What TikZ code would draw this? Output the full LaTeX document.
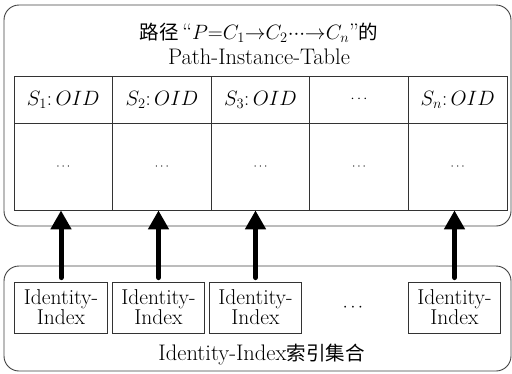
\documentclass[tikz,border=0pt]{standalone}
\usepackage{fontspec}
\newfontfamily\cjk{Noto Sans CJK SC}
\newcommand{\cjkt}[1]{{\cjk\fontsize{19.5}{19.5}\selectfont #1}}
\usetikzlibrary{arrows.meta}
\begin{document}
\begin{tikzpicture}[x=1pt,y=-1pt,
  grp/.style={draw=black!75, line width=0.9pt, rounded corners=15pt, inner sep=0pt},
  cell/.style={draw=black!80, line width=0.8pt, minimum width=98.6pt, inner sep=0pt},
  hcell/.style={cell, minimum height=47pt, font=\fontsize{21}{21}\selectfont},
  bcell/.style={cell, minimum height=87pt, font=\fontsize{13}{13}\selectfont},
  idx/.style={draw=black!80, line width=0.8pt, minimum width=92.5pt, minimum height=51pt, inner sep=0pt, align=center, font=\fontsize{21.5}{20}\selectfont},
  bigarrow/.style={line width=5pt, line cap=round, -{Triangle[length=19pt,width=20pt]}},
  lbl/.style={inner sep=0pt, align=center, font=\fontsize{22.5}{25}\selectfont}]
\useasboundingbox (0,0) rectangle (512,373);
% group boxes
\node[grp, minimum width=507pt, minimum height=221pt] (tbox) at (257.5,115.5) {};
\node[grp, minimum width=507pt, minimum height=105pt] (ibox) at (257.5,318.5) {};
% title
\node[lbl] (title) at (259,44) {\cjkt{路径}\,``$P{=}C_1{\to}C_2{\cdotp}{\cdotp}{\cdotp}{\to}C_n$''\cjkt{的}\\Path-Instance-Table};
% table header
\node[hcell] (h1) at (63.3,99.5) {$S_1{:}\,OID$};
\node[hcell] (h2) at (161.9,99.5) {$S_2{:}\,OID$};
\node[hcell] (h3) at (260.5,99.5) {$S_3{:}\,OID$};
\node[hcell] (h4) at (359.1,99.5) {\fontsize{15}{15}\selectfont$\cdots$};
\node[hcell] (h5) at (457.7,99.5) {$S_n{:}\,OID$};
% table body
\node[bcell] (b1) at (63.3,166.5) {$\cdots$};
\node[bcell] (b2) at (161.9,166.5) {$\cdots$};
\node[bcell] (b3) at (260.5,166.5) {$\cdots$};
\node[bcell] (b4) at (359.1,166.5) {$\cdots$};
\node[bcell] (b5) at (457.7,166.5) {$\cdots$};
% index boxes
\node[idx] (i1) at (61,307.5) {Identity-\\Index};
\node[idx] (i2) at (158.5,307.5) {Identity-\\Index};
\node[idx] (i3) at (255.5,307.5) {Identity-\\Index};
\node[idx, draw=none, font=\fontsize{16}{16}\selectfont] (idots) at (353,307.5) {$\cdots$};
\node[idx] (i5) at (454.5,307.5) {Identity-\\Index};
\node[lbl] (blabel) at (261.5,355) {Identity-Index\cjkt{索引集合}};
% arrows
\draw[bigarrow] ([yshift=4pt]i1.north) -- (i1.north |- b1.south);
\draw[bigarrow] ([yshift=4pt]i2.north) -- (i2.north |- b2.south);
\draw[bigarrow] ([yshift=4pt]i3.north) -- (i3.north |- b3.south);
\draw[bigarrow] ([yshift=4pt]i5.north) -- (i5.north |- b5.south);
\end{tikzpicture}
\end{document}
